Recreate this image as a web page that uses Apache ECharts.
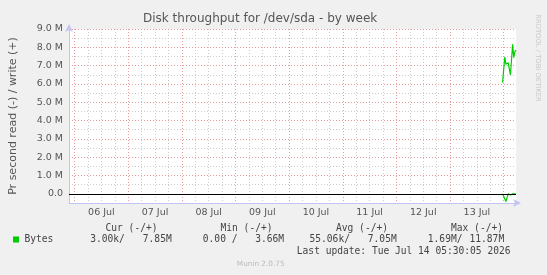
<!DOCTYPE html>
<html>
<head>
<meta charset="utf-8">
<script src="https://cdn.jsdelivr.net/npm/echarts@6/dist/echarts.min.js"></script>
<style>
html,body{margin:0;padding:0;background:#F0F0F0;}
#c{width:547px;height:275px;}
</style>
</head>
<body>
<div id="c"></div>
<script>
// ---- data ----
const titleText = 'Disk throughput for /dev/sda - by week';
const yAxisName = 'Pr second read (-) / write (+)';
const rangeStart = '2026-07-05 21:30';
const rangeEnd = '2026-07-14 05:30';
const dayLabels = ['06 Jul', '07 Jul', '08 Jul', '09 Jul', '10 Jul', '11 Jul', '12 Jul', '13 Jul'];
const yTickLabels = ['0.0', '1.0 M', '2.0 M', '3.0 M', '4.0 M', '5.0 M', '6.0 M', '7.0 M', '8.0 M', '9.0 M'];
const sampleTimes = ['2026-07-13 23:30', '2026-07-14 00:00', '2026-07-14 00:30', '2026-07-14 01:00',
  '2026-07-14 01:30', '2026-07-14 02:00', '2026-07-14 02:30', '2026-07-14 03:00', '2026-07-14 03:30',
  '2026-07-14 04:00', '2026-07-14 04:30', '2026-07-14 05:00', '2026-07-14 05:30'];
// bytes per second, in millions
const writeM = [6.07, 6.80, 7.47, 7.07, 7.16, 7.16, 7.10, 6.50, 6.50, 8.16, 7.43, 7.76, 7.85];
const readM  = [0.00, 0.00, 0.28, 0.42, 0.22, 0.00, 0.00, 0.06, 0.06, 0.00, 0.00, 0.00, 0.02];
const statHeaders = ['Cur (-/+)', 'Min (-/+)', 'Avg (-/+)', 'Max (-/+)'];
const statRead  = ['3.00k/', '0.00 /', '55.06k/', '1.69M/'];
const statWrite = ['7.85M', '3.66M', '7.05M', '11.87M'];
const seriesName = 'Bytes';
const lastUpdate = 'Last update: Tue Jul 14 05:30:05 2026';
const footer = 'Munin 2.0.75';
const sideText = 'RRDTOOL / TOBI OETIKER';

// ---- helpers ----
const base = Date.UTC(2026, 6, 6, 0, 0);
function hrs(s) {
  const [d, t] = s.split(' ');
  const [Y, M, D] = d.split('-').map(Number);
  const [h, m] = t.split(':').map(Number);
  return (Date.UTC(Y, M - 1, D, h, m) - base) / 3.6e6;
}
const xMin = hrs(rangeStart), xMax = hrs(rangeEnd);
const majorX = [], minorX = [];
for (let h = 0; h <= xMax; h += 6) (h % 24 === 0 ? majorX : minorX).push(h);
const noonVals = dayLabels.map((_, i) => 12 + 24 * i);
const majorY = yTickLabels.map((_, i) => i * 1e6);
const minorY = yTickLabels.slice(1).map((_, i) => (i + 0.5) * 1e6);

const writeData = sampleTimes.map((t, i) => [hrs(t), writeM[i] * 1e6]);
const readData = sampleTimes.map((t, i) => [hrs(t), -readM[i] * 1e6]);

const RED = '#ea9c9c', GRAY = '#cccccc', AXIS = '#c4c4f4', TXT = '#555';
const MONO = 'DejaVu Sans Mono', SANS = 'DejaVu Sans';

const chart = echarts.init(document.getElementById('c'), null, {renderer: 'canvas'});

const graphics = [];
function txt(x, y, s, opt) {
  graphics.push(Object.assign({
    type: 'text', x: x, y: y,
    style: Object.assign({text: s, fill: '#444', font: '9.6px ' + MONO, textVerticalAlign: 'middle'}, opt || {})
  }));
}
const headX = [105.5, 220.5, 336, 451];
statHeaders.forEach((s, i) => txt(headX[i], 228, s));
const readX = [90.2, 202.8, 309.5, 427.8];
statRead.forEach((s, i) => txt(readX[i], 239.5, s));
const writeX = [142.8, 255.2, 367.8, 469.5];
statWrite.forEach((s, i) => txt(writeX[i], 239.5, s));
txt(24.5, 239.5, seriesName);
txt(296.8, 251, lastUpdate);
graphics.push({type: 'rect', shape: {x: 13, y: 236.5, width: 6, height: 6}, style: {fill: '#00cc00'}});
graphics.push({type: 'text', x: 260.7, y: 264.5, style: {text: footer, fill: '#bbbbbb', font: '7.3px ' + SANS, textAlign: 'center', textVerticalAlign: 'middle'}});
graphics.push({type: 'text', x: 537.5, y: 58, rotation: -Math.PI / 2,
  style: {text: sideText, fill: '#c8c8c8', font: '6.8px ' + SANS, textAlign: 'center', textVerticalAlign: 'middle'}});

const dotted = c => ({show: true, lineStyle: {color: c, type: [1, 2], width: 1, opacity: 1}});
const arrowLine = {show: true, onZero: false, lineStyle: {color: AXIS, width: 1}, symbol: ['none', 'arrow'], symbolSize: [6, 8], symbolOffset: [0, 5]};

chart.setOption({
  animation: false,
  backgroundColor: '#F0F0F0',
  title: {
    text: titleText, left: 143, top: 13, padding: 0,
    textStyle: {fontFamily: SANS, fontSize: 12, fontWeight: 'normal', color: TXT}
  },
  grid: {left: 66, top: 29, width: 450, height: 174, show: true, backgroundColor: '#ffffff', borderWidth: 0, containLabel: false},
  xAxis: [
    {
      type: 'value', min: xMin, max: xMax, z: 3,
      axisLine: arrowLine,
      axisTick: {show: false, customValues: majorX},
      axisLabel: {
        customValues: noonVals, margin: 5, color: TXT, fontFamily: SANS, fontSize: 9.5,
        formatter: v => dayLabels[Math.round((v - 12) / 24)]
      },
      splitLine: dotted(RED)
    },
    {
      type: 'value', min: xMin, max: xMax, position: 'bottom', z: 2,
      axisLine: {show: false}, axisTick: {show: false, customValues: minorX},
      axisLabel: {show: false}, splitLine: dotted(GRAY)
    }
  ],
  yAxis: [
    {
      type: 'value', min: -0.5e6, max: 9e6, z: 3,
      name: yAxisName, nameLocation: 'middle', nameGap: 50,
      nameTextStyle: {fontFamily: SANS, fontSize: 11, color: TXT},
      axisLine: arrowLine,
      axisTick: {show: false, customValues: majorY},
      axisLabel: {
        customValues: majorY, margin: 6, color: TXT, fontFamily: SANS, fontSize: 9.5,
        formatter: v => yTickLabels[Math.round(v / 1e6)]
      },
      splitLine: dotted(RED)
    },
    {
      type: 'value', min: -0.5e6, max: 9e6, position: 'left', z: 2,
      axisLine: {show: false}, axisTick: {show: false, customValues: minorY},
      axisLabel: {show: false}, splitLine: dotted(GRAY)
    }
  ],
  series: [
    {
      name: 'write', type: 'line', data: writeData, showSymbol: false, symbol: 'none',
      xAxisIndex: 0, yAxisIndex: 0, z: 4,
      lineStyle: {color: '#00cc00', width: 1.2}, itemStyle: {color: '#00cc00'}
    },
    {
      name: 'read', type: 'line', data: readData, showSymbol: false, symbol: 'none',
      xAxisIndex: 0, yAxisIndex: 0, z: 4,
      lineStyle: {color: '#00cc00', width: 1.2}, itemStyle: {color: '#00cc00'},
      markLine: {
        silent: true, symbol: ['none', 'none'], label: {show: false},
        lineStyle: {color: '#000000', type: 'solid', width: 1}, data: [{yAxis: 0}]
      }
    }
  ],
  graphic: graphics
});
</script>
</body>
</html>
